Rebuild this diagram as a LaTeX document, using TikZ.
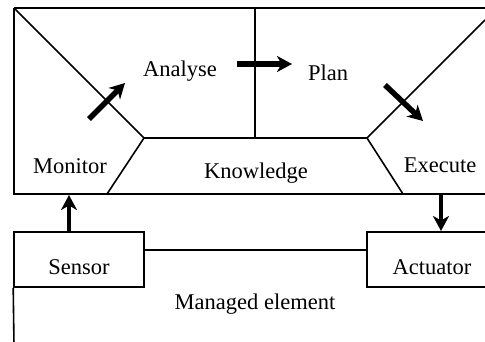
\documentclass[tikz,border=0pt]{standalone}
\usepackage{fontspec}
\setmainfont{Liberation Serif}
\usetikzlibrary{arrows.meta,calc}
\begin{document}
\begin{tikzpicture}[x=1pt,y=-1pt,
  thinline/.style={line width=1.6pt},
  topline/.style={line width=2.4pt},
  bigarrow/.style={line width=5.5pt,-{Stealth[length=15pt,width=16pt,inset=4.5pt]}},
  lbl/.style={font=\fontsize{22.5}{26}\selectfont, inner sep=0pt, anchor=base},
  boxnode/.style={draw, line width=1.6pt, font=\fontsize{22.5}{26}\selectfont, inner sep=0pt,
    minimum width=130pt, minimum height=55pt, text height=29pt, text depth=0pt}]
\useasboundingbox (0,0) rectangle (485,341);
% frame of the autonomic manager
\coordinate (TL) at (14,8);
\coordinate (TR) at (490,8);
\coordinate (BL) at (14,194);
\coordinate (BR) at (490,194);
\coordinate (KTL) at (144,138);
\coordinate (KTR) at (367,138);
\coordinate (KBL) at (107,194);
\coordinate (KBR) at (403,194);
\coordinate (MT) at (255,8);
\coordinate (MB) at (255,138);
\coordinate (RD) at (485,20);
\draw[topline] (TL) -- (TR);
\draw[thinline] (TL) -- (BL) -- (BR);
\draw[thinline] (TL) -- (KTL) -- (KTR) -- (RD);
\draw[thinline] (KBL) -- (KTL);
\draw[thinline] (KBR) -- (KTR);
\draw[thinline] (MT) -- (MB);
% labels
\node[lbl] (analyse) at (180,76) {Analyse};
\node[lbl] (plan) at (328,80) {Plan};
\node[lbl] (monitor) at (70,173) {Monitor};
\node[lbl] (knowledge) at (256,178) {Knowledge};
\node[lbl] (execute) at (440,172) {Execute};
% managed element
\node[boxnode] (sensor) at (79,259.5) {Sensor};
\node[boxnode] (actuator) at (432,259.5) {Actuator};
\node[lbl] (managed) at (255,309) {Managed element};
\coordinate (bottomleft) at (14,345);
\draw[thinline] (sensor.south west) -- (bottomleft);
\draw[thinline] ($(sensor.north east)!0.33!(sensor.south east)$) -- ($(actuator.north west)!0.33!(actuator.south west)$);
% arrows
\coordinate (a1s) at (89,119);
\coordinate (a1e) at (125,83);
\coordinate (a2s) at (237,64);
\coordinate (a2e) at (292,64);
\coordinate (a3s) at (385,85);
\coordinate (a3e) at (423,121);
\coordinate (a4s) at (69,231);
\coordinate (a4e) at (69,195);
\coordinate (a5s) at (441,194);
\coordinate (a5e) at (441,231);
\draw[bigarrow] (a1s) -- (a1e);
\draw[bigarrow] (a2s) -- (a2e);
\draw[bigarrow] (a3s) -- (a3e);
\draw[bigarrow, line width=4.5pt] (a4s) -- (a4e);
\draw[bigarrow, line width=4.5pt] (a5s) -- (a5e);
\end{tikzpicture}
\end{document}
